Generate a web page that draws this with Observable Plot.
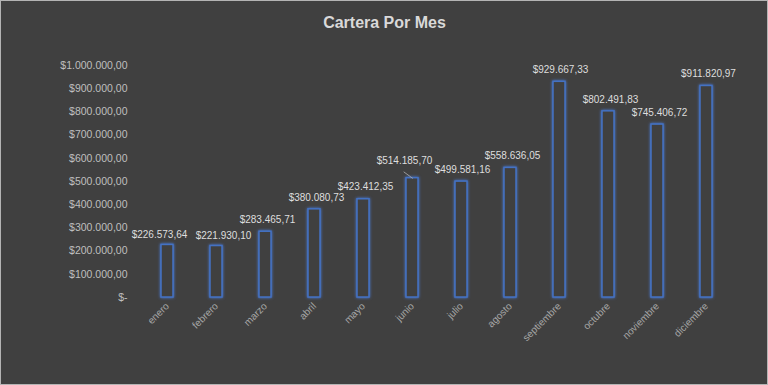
<!DOCTYPE html>
<html>
<head>
<meta charset="utf-8">
<script src="https://cdn.jsdelivr.net/npm/d3@7"></script>
<script src="https://cdn.jsdelivr.net/npm/@observablehq/plot@0.6"></script>
<style>
  html, body { margin: 0; padding: 0; background: #404040; }
  #chart { width: 768px; height: 385px; position: relative; box-shadow: inset 0 0 0 1px #b4b4b4; }
  #chart svg { display: block; }
</style>
</head>
<body>
<div id="chart"></div>
<script>
const title = "Cartera Por Mes";
const months = ["enero","febrero","marzo","abril","mayo","junio","julio","agosto","septiembre","octubre","noviembre","diciembre"];
const values = [226573.64, 221930.10, 283465.71, 380080.73, 423412.35, 514185.70, 499581.16, 558636.05, 929667.33, 802491.83, 745406.72, 911820.97];
const yTicks = [0, 100000, 200000, 300000, 400000, 500000, 600000, 700000, 800000, 900000, 1000000];
// label nudges (Excel shifted some labels to avoid overlap)
const labelDx = [-8, 7, 2, 2, 2, -8, 1, 2, 1, 2, 2, 2];
const labelDy = [-10, -10, -12, -12, -12, -17, -12, -12, -12, -12, -12, -12];

const data = months.map((m, i) => ({month: m, value: values[i], dx: labelDx[i], dy: labelDy[i]}));
const loc = d3.formatLocale({decimal: ",", thousands: ".", grouping: [3], currency: ["$", ""]});
const fmt = loc.format("$,.2f");
const tickFmt = v => v === 0 ? "$-" : fmt(v);

const font = "'Liberation Sans', Arial, sans-serif";

const labelMarks = data.map(d =>
  Plot.text([d], {x: "month", y: "value", text: r => fmt(r.value), dx: d.dx, dy: d.dy, fill: "#dedede", fontSize: 10})
);

const plot = Plot.plot({
  width: 768,
  height: 385,
  marginLeft: 140,
  marginRight: 36,
  marginTop: 65,
  marginBottom: 88,
  style: {background: "transparent", fontFamily: font, fontSize: "10.5px"},
  x: {domain: months, paddingInner: 0.76, paddingOuter: 0.38, label: null},
  y: {domain: [0, 1000000], label: null},
  marks: [
    Plot.axisY({ticks: yTicks, tickFormat: tickFmt, tickSize: 0, tickPadding: 13, label: null, fill: "#bfbfbf", fontSize: 10.5}),
    Plot.axisX({tickSize: 0, tickPadding: 7, tickRotate: -45, label: null, fill: "#a6a6a6", fontSize: 10}),
    Plot.barY(data, {x: "month", y: "value", fill: "#404040", stroke: "#4472c4", strokeWidth: 1.5}),
    ...labelMarks,
    Plot.vector(data.filter(d => d.month === "junio"), {x: "month", y: "value", length: 10.5, rotate: -54, anchor: "start", stroke: "#a6a6a6", strokeWidth: 0.8,
      shape: {draw(context, l) { context.moveTo(0, 0); context.lineTo(0, -l); }}}),
    Plot.text([title], {frameAnchor: "top", text: d => d, dx: -52, dy: -49, fill: "#d9d9d9", fontSize: 16, fontWeight: "bold"})
  ]
});

d3.select(plot).selectAll("g[aria-label='bar'] rect").style("filter", "drop-shadow(0 0 1.5px #4a7fe0)");
document.getElementById("chart").appendChild(plot);
</script>
</body>
</html>
